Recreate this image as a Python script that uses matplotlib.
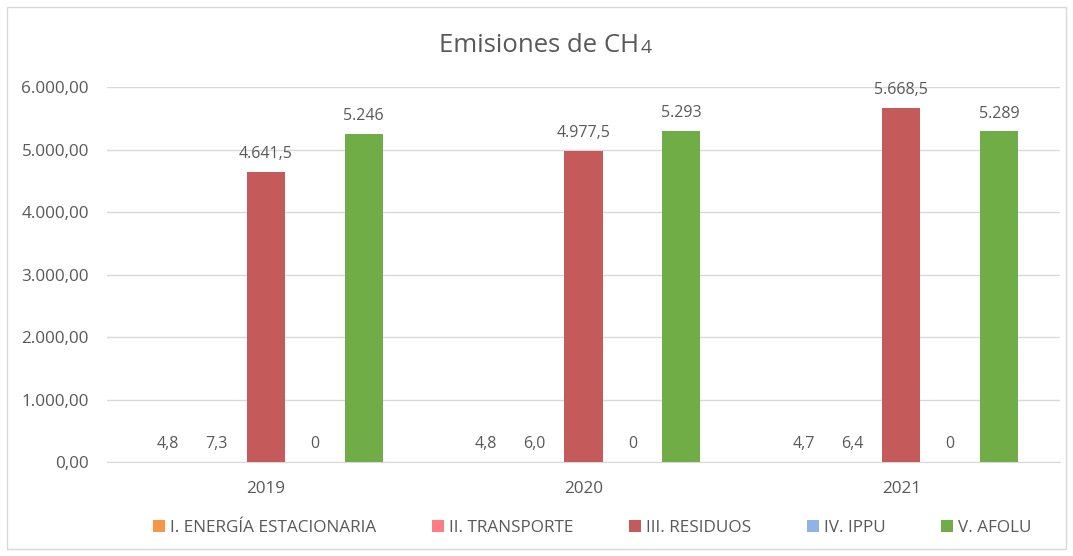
import matplotlib.pyplot as plt
import matplotlib.patches as mpatches
import numpy as np

plt.rcParams['font.family'] = ['Open Sans', 'DejaVu Sans']

years = ['2019', '2020', '2021']
series = ['I. ENERGÍA ESTACIONARIA', 'II. TRANSPORTE', 'III. RESIDUOS', 'IV. IPPU', 'V. AFOLU']
energia = [4.8, 4.8, 4.7]
transporte = [7.3, 6.0, 6.4]
residuos = [4641.5, 4977.5, 5668.5]
ippu = [0, 0, 0]
afolu = [5246, 5293, 5289]
colors = ['#F79646', '#FF7C80', '#C55A5A', '#8DB4E2', '#70AD47']

# label formats per series (as in the original)
def fmt1(v):
    s = f"{v:,.1f}"
    return s.replace(',', 'X').replace('.', ',').replace('X', '.')

def fmt0(v):
    s = f"{v:,.0f}"
    return s.replace(',', '.')

fmts = [fmt1, fmt1, fmt1, fmt0, fmt0]
data = [energia, transporte, residuos, ippu, afolu]

fig = plt.figure(figsize=(10.73, 5.56), dpi=100)
ax = fig.add_axes([0.0997, 0.169, 0.8883, 0.6745])

x = np.arange(len(years))
slot = 0.154
width = 0.12
grey = '#595959'
for i, (vals, c, f) in enumerate(zip(data, colors, fmts)):
    pos = x + (i - 2) * slot
    ax.bar(pos, vals, width=width, color=c, label=series[i], zorder=3)
    for p, v in zip(pos, vals):
        ax.annotate(f(v), (p, v), xytext=(0, 7), textcoords='offset points',
                    ha='center', va='bottom', fontsize=11.5, color=grey)

ax.set_xlim(-0.5, 2.5)
ax.set_ylim(0, 6000)
ax.set_yticks(np.arange(0, 6001, 1000))
ax.set_yticklabels([fmt1(v) + '0' for v in np.arange(0, 6001, 1000)])
ax.set_xticks(x)
ax.set_xticklabels(years)
ax.tick_params(axis='both', length=0, labelsize=12.3, labelcolor=grey)
ax.tick_params(axis='y', pad=13)
ax.tick_params(axis='x', pad=14)
ax.grid(axis='y', color='#D9D9D9', linewidth=1, zorder=0)
for s in ['top', 'right', 'left']:
    ax.spines[s].set_visible(False)
ax.spines['bottom'].set_color('#D9D9D9')

# title with a small "4" (not a true subscript)
t = fig.text(0.5, 0.918, 'Emisiones de CH', ha='center', va='center',
             fontsize=18.5, color=grey)
fig.canvas.draw()
bb = t.get_window_extent()
shift = -3
t.set_position(((bb.x0 + bb.width / 2 - shift) / fig.bbox.width, 0.918))
ax.annotate('4', xy=(1, 0), xycoords=t, xytext=(1, 0.5), textcoords='offset points',
            ha='left', va='bottom', fontsize=14, color=grey)

ax.legend(loc='center', bbox_to_anchor=(0.5095, -0.175), ncol=5, frameon=False,
          fontsize=12.3, labelcolor=grey, handlelength=0.7, handleheight=0.7,
          handletextpad=0.3, columnspacing=3.25)

fig.patches.append(mpatches.Rectangle((0.0065, 0.0125), 0.987, 0.975,
                                      transform=fig.transFigure, fill=False,
                                      edgecolor='#D9D9D9', linewidth=1))

fig.savefig('out.png', dpi=100)
